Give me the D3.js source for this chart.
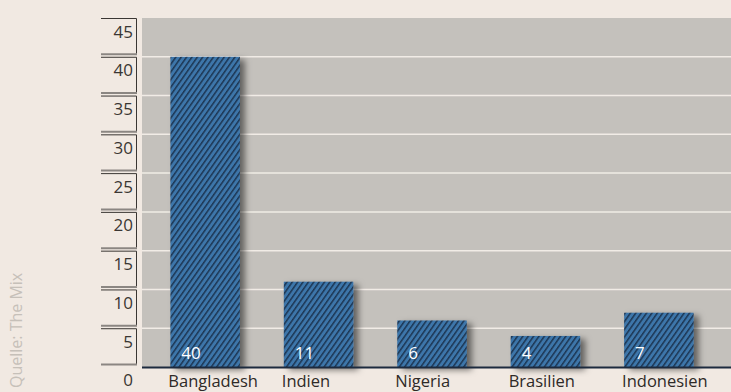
<!DOCTYPE html>
<html><head><meta charset="utf-8">
<script src="https://cdn.jsdelivr.net/npm/d3@7"></script>
<style>
html,body{margin:0;padding:0;background:#f1e9e2;}
svg{display:block;}
text{font-family:"Open Sans","Liberation Sans",Arial,sans-serif;}
</style></head>
<body>
<script>
const categories = ["Bangladesh","Indien","Nigeria","Brasilien","Indonesien"];
const values = [40, 11, 6, 4, 7];
const tickValues = [0,5,10,15,20,25,30,35,40,45];
const source = "Quelle: The Mix";

const W = 731, H = 392;
const plotL = 142, plotR = 731, plotT = 18, plotB = 367;

const svg = d3.select("body").append("svg").attr("width", W).attr("height", H);
const defs = svg.append("defs");

const pat = defs.append("pattern").attr("id","hatch").attr("patternUnits","userSpaceOnUse")
  .attr("width",4.4).attr("height",4.4).attr("patternTransform","rotate(35)");
pat.append("rect").attr("width",4.4).attr("height",4.4).attr("fill","#3d76aa");
pat.append("rect").attr("width",1.5).attr("height",4.4).attr("fill","#1d3653");

const f = defs.append("filter").attr("id","shadow").attr("x","-20%").attr("y","-20%").attr("width","150%").attr("height","150%");
f.append("feDropShadow").attr("dx",5).attr("dy",3).attr("stdDeviation",3)
  .attr("flood-color","#000").attr("flood-opacity",0.5);

const y = d3.scaleLinear().domain([0,45]).range([plotB, plotT]);
const x = d3.scaleBand().domain(categories).range([142, 722]).paddingInner(0.387).paddingOuter(0.25);

// plot background
svg.append("rect").attr("x",plotL).attr("y",plotT).attr("width",plotR-plotL).attr("height",plotB-plotT).attr("fill","#c4c1bc");

// gridlines
svg.append("g").selectAll("line").data(tickValues.filter(v=>v>0 && v<45)).join("line")
  .attr("x1",plotL).attr("x2",plotR).attr("y1",d=>y(d)).attr("y2",d=>y(d))
  .attr("stroke","#f1ece6").attr("stroke-width",1.5);

// tick boxes
const boxL = 101, boxR = 137;
const tb = svg.append("g").selectAll("g").data(tickValues.filter(v=>v>0)).join("g");
tb.append("path")
  .attr("d", d => `M${boxL},${y(d)+0.5}H${boxR-0.5}V${y(d-5)-3}`)
  .attr("fill","none").attr("stroke","#3a3633").attr("stroke-width",1);
tb.append("line").attr("x1",boxL).attr("x2",boxR).attr("y1",d=>y(d-5)-2.5).attr("y2",d=>y(d-5)-2.5)
  .attr("stroke","#8b8682").attr("stroke-width",2);
svg.append("g").selectAll("text").data(tickValues).join("text")
  .attr("x",133).attr("y",d=> d===0 ? 386 : y(d)+19.5)
  .attr("text-anchor","end").attr("font-size",17).attr("fill","#3a3633")
  .text(d=>d);

// bars
svg.append("g").selectAll("rect").data(values).join("rect")
  .attr("x",(d,i)=>x(categories[i])).attr("width",x.bandwidth())
  .attr("y",d=>y(d)).attr("height",d=>plotB-y(d))
  .attr("fill","url(#hatch)").attr("filter","url(#shadow)");

// baseline
svg.append("line").attr("x1",plotL).attr("x2",plotR).attr("y1",plotB+0.5).attr("y2",plotB+0.5)
  .attr("stroke","#1c2a3e").attr("stroke-width",2);

// value labels
svg.append("g").selectAll("text").data(values).join("text")
  .attr("x",(d,i)=>x(categories[i])+11).attr("y",359)
  .attr("font-size",17).attr("fill","#ffffff").text(d=>d);

// category labels
svg.append("g").selectAll("text").data(categories).join("text")
  .attr("x",d=>x(d)-2).attr("y",387)
  .attr("font-size",16.5).attr("fill","#2e2a27").text(d=>d);

// source
svg.append("text").attr("transform","translate(22,388) rotate(-90)")
  .attr("font-family","Liberation Sans, Arial, sans-serif")
  .attr("font-size",16).attr("fill","#c6c0b9").text(source);
</script>
</body></html>
